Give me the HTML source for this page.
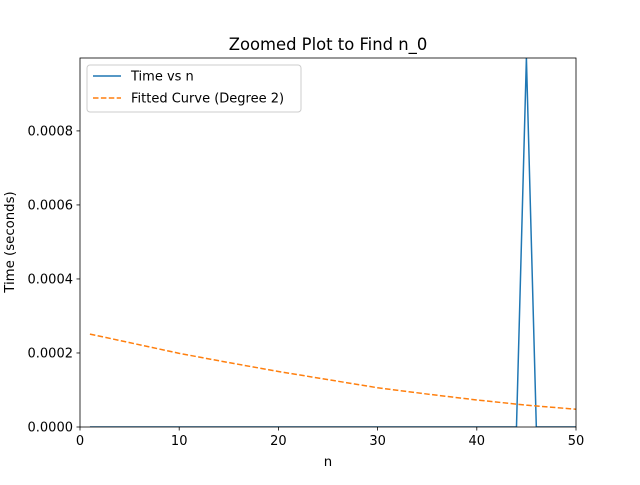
<!DOCTYPE html>
<html><head><meta charset="utf-8"><style>
body{margin:0;background:#fff;}
svg{font-family:"DejaVu Sans","Liberation Sans",sans-serif;}
</style></head><body>
<svg id="chart" width="640" height="480" xmlns="http://www.w3.org/2000/svg">
<rect width="640" height="480" fill="#fff"/>
<text x="328" y="50" text-anchor="middle" font-size="16.4">Zoomed Plot to Find n_0</text>
<g id="plot"></g>
<text x="328" y="466" text-anchor="middle" font-size="13.3">n</text>
<text transform="translate(14,242) rotate(-90)" text-anchor="middle" font-size="13.3">Time (seconds)</text>
</svg>
<script>
const timeN = [];
const timeVals = [0,0,0,0,0,0,0,0,0,0,0,0,0,0,0,0,0,0,0,0,0,0,0,0,0,0,0,0,0,0,0,0,0,0,0,0,0,0,0,0,0,0,0,0,0.000997,0,0,0,0,0];
for (let i = 1; i <= 50; i++) timeN.push(i);
const fitN = [1,5,10,15,20,25,30,35,40,45,50];
const fitVals = [0.000251,0.000228,0.000199,0.000174,0.000150,0.000128,0.000106,0.000089,0.000073,0.000059,0.000048];
const xTicks = [0,10,20,30,40,50];
const yTicks = [0,0.0002,0.0004,0.0006,0.0008];
const yTickLabels = ["0.0000","0.0002","0.0004","0.0006","0.0008"];
const X0=80,X1=576,Y0=427,Y1=58,xMin=0,xMax=50,yMin=0,yMax=0.000997;
const sx=v=>X0+(v-xMin)/(xMax-xMin)*(X1-X0);
const sy=v=>Y0-(v-yMin)/(yMax-yMin)*(Y0-Y1);
const NS="http://www.w3.org/2000/svg";
const g=document.getElementById('plot');
function mk(t,a,p){const e=document.createElementNS(NS,t);for(const k in a)e.setAttribute(k,a[k]);(p||g).appendChild(e);return e;}
const clip=mk('clipPath',{id:'c'});mk('rect',{x:X0,y:Y1,width:X1-X0,height:Y0-Y1},clip);
let l1=mk('polyline',{points:timeN.map((n,i)=>sx(n)+','+sy(timeVals[i])).join(' '),fill:'none',stroke:'#1f77b4','stroke-width':1.5,'clip-path':'url(#c)'});


let l2=mk('polyline',{points:fitN.map((n,i)=>sx(n)+','+sy(fitVals[i])).join(' '),fill:'none',stroke:'#ff7f0e','stroke-width':1.5,'stroke-dasharray':'5.5,2.4','clip-path':'url(#c)'});


let fr=mk('rect',{x:X0,y:Y1,width:X1-X0,height:Y0-Y1,fill:'none',stroke:'#000','stroke-width':0.8});


xTicks.forEach(v=>{mk('line',{x1:sx(v),x2:sx(v),y1:Y0,y2:Y0+3.5,stroke:'#000','stroke-width':0.8});
let t=mk('text',{x:sx(v),y:Y0+18,'text-anchor':'middle','font-size':'13'});t.textContent=v;

});
yTicks.forEach((v,i)=>{mk('line',{x1:X0-3.5,x2:X0,y1:sy(v),y2:sy(v),stroke:'#000','stroke-width':0.8});
let t=mk('text',{x:X0-7,y:sy(v)+4.5,'text-anchor':'end','font-size':'13'});t.textContent=yTickLabels[i];

});
const lg=mk('g',{});


mk('rect',{x:87,y:65,width:214,height:47,rx:3,fill:'#fff','fill-opacity':0.8,stroke:'#ccc'},lg);
mk('line',{x1:93,x2:121,y1:76,y2:76,stroke:'#1f77b4','stroke-width':1.5},lg);
let t1=mk('text',{x:131,y:80.5,'font-size':'13'},lg);t1.textContent='Time vs n';
mk('line',{x1:93,x2:121,y1:98,y2:98,stroke:'#ff7f0e','stroke-width':1.5,'stroke-dasharray':'5.5,2.4'},lg);
let t2=mk('text',{x:131,y:102.5,'font-size':'13'},lg);t2.textContent='Fitted Curve (Degree 2)';
</script>
</body></html>
